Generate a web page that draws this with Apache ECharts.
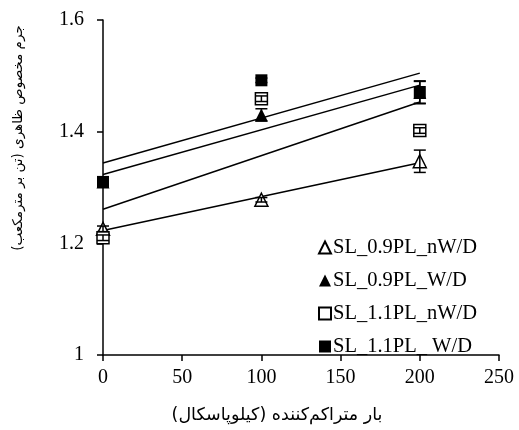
<!DOCTYPE html>
<html>
<head>
<meta charset="utf-8">
<script src="https://cdn.jsdelivr.net/npm/echarts@6/dist/echarts.min.js"></script>
<style>
  html, body { margin: 0; padding: 0; background: #fff; }
  #main { width: 519px; height: 430px; }
</style>
</head>
<body>
<div id="main"></div>
<script>
// بار متراکم کننده (kPa)
var loads = [0, 100, 200];
var seriesNames = ['SL_0.9PL_nW/D', 'SL_0.9PL_W/D', 'SL_1.1PL_nW/D', 'SL_1.1PL_ W/D'];
// جرم مخصوص ظاهری
var sl09nwd = [1.226, 1.278, 1.347];
var sl09wd = [1.31, 1.43, 1.47];
var sl11nwd = [1.21, 1.459, 1.402];
var sl11wd = [1.31, 1.492, 1.471];
// error bar half widths
var err09nwd = [0.005, 0.004, 0.02];
var err09wd = [0.005, 0.011, 0.02];
var err11nwd = [0.005, 0.005, 0.005];
var err11wd = [0.005, 0.004, 0.02];
var yTicks = [1, 1.2, 1.4, 1.6];

var values = [sl09nwd, sl09wd, sl11nwd, sl11wd];
var errors = [err09nwd, err09wd, err11nwd, err11wd];
var symbols = ['triangle', 'triangle', 'rect', 'rect'];
var filled = [false, true, false, true];

// linear trendline (least squares) from each series' points
function trend(ys) {
  var n = loads.length, sx = 0, sy = 0, sxx = 0, sxy = 0;
  for (var i = 0; i < n; i++) {
    sx += loads[i]; sy += ys[i];
    sxx += loads[i] * loads[i]; sxy += loads[i] * ys[i];
  }
  var b = (n * sxy - sx * sy) / (n * sxx - sx * sx);
  var a = (sy - b * sx) / n;
  return [[loads[0], a + b * loads[0]], [loads[n - 1], a + b * loads[n - 1]]];
}

var chart = echarts.init(document.getElementById('main'));
var series = [];

values.forEach(function(ys) {
  series.push({
    type: 'line',
    data: trend(ys),
    showSymbol: false,
    symbol: 'none',
    silent: true,
    lineStyle: { color: '#000', width: 1.5 },
    z: 1
  });
});

values.forEach(function(ys, k) {
  series.push({
    type: 'custom',
    silent: true,
    data: loads.map(function(x, i) { return [x, ys[i] - errors[k][i], ys[i] + errors[k][i]]; }),
    renderItem: function(params, api) {
      var lo = api.coord([api.value(0), api.value(1)]);
      var hi = api.coord([api.value(0), api.value(2)]);
      var w = 6;
      var st = { stroke: '#000', lineWidth: 1.5 };
      return {
        type: 'group',
        children: [
          { type: 'line', shape: { x1: lo[0], y1: lo[1], x2: hi[0], y2: hi[1] }, style: st },
          { type: 'line', shape: { x1: lo[0] - w, y1: lo[1], x2: lo[0] + w, y2: lo[1] }, style: st },
          { type: 'line', shape: { x1: hi[0] - w, y1: hi[1], x2: hi[0] + w, y2: hi[1] }, style: st }
        ]
      };
    },
    z: filled[k] ? 2 : 5
  });
});

values.forEach(function(ys, k) {
  series.push({
    name: seriesNames[k],
    type: 'scatter',
    data: loads.map(function(x, i) { return [x, ys[i]]; }),
    symbol: symbols[k],
    symbolSize: symbols[k] === 'rect' ? 12 : 13,
    itemStyle: {
      color: filled[k] ? '#000' : '#fff',
      borderColor: '#000',
      borderWidth: filled[k] ? 0 : 1.5,
      opacity: 1
    },
    z: filled[k] ? 4 : 3
  });
});

var option = {
  backgroundColor: '#fff',
  animation: false,
  grid: { left: 103, right: 20, top: 20, bottom: 75 },
  legend: {
    orient: 'vertical',
    left: 313,
    top: 232,
    itemGap: 12,
    itemWidth: 12,
    itemHeight: 12,
    data: seriesNames,
    textStyle: { fontFamily: 'Liberation Serif', fontSize: 20.5, color: '#000', padding: [0, 0, 0, -3] }
  },
  xAxis: {
    type: 'value',
    min: 0,
    max: 250,
    interval: 50,
    axisLine: { show: true, lineStyle: { color: '#000', width: 1.5 } },
    axisTick: { show: true, inside: false, length: 6, lineStyle: { color: '#000', width: 1.5 } },
    axisLabel: { fontFamily: 'Liberation Serif', fontSize: 20, color: '#000', margin: 13 },
    splitLine: { show: false }
  },
  yAxis: {
    type: 'value',
    min: yTicks[0],
    max: yTicks[yTicks.length - 1],
    interval: 0.2,
    axisLine: { show: true, lineStyle: { color: '#000', width: 1.5 } },
    axisTick: { show: true, inside: false, length: 6, lineStyle: { color: '#000', width: 1.5 } },
    axisLabel: { fontFamily: 'Liberation Serif', fontSize: 20, color: '#000', margin: 19 },
    splitLine: { show: false }
  },
  graphic: [
    {
      type: 'text',
      x: 18,
      y: 138,
      rotation: Math.PI / 2,
      style: {
        text: 'جرم مخصوص ظاهری (تن بر مترمکعب)',
        font: '13.5px "DejaVu Sans"',
        fill: '#000',
        align: 'center',
        verticalAlign: 'middle'
      }
    },
    {
      type: 'text',
      x: 277,
      y: 415,
      style: {
        text: 'بار متراکم‌کننده (کیلوپاسکال)',
        font: '17.5px "DejaVu Sans"',
        fill: '#000',
        align: 'center',
        verticalAlign: 'middle'
      }
    }
  ],
  series: series
};
chart.setOption(option);
</script>
</body>
</html>
